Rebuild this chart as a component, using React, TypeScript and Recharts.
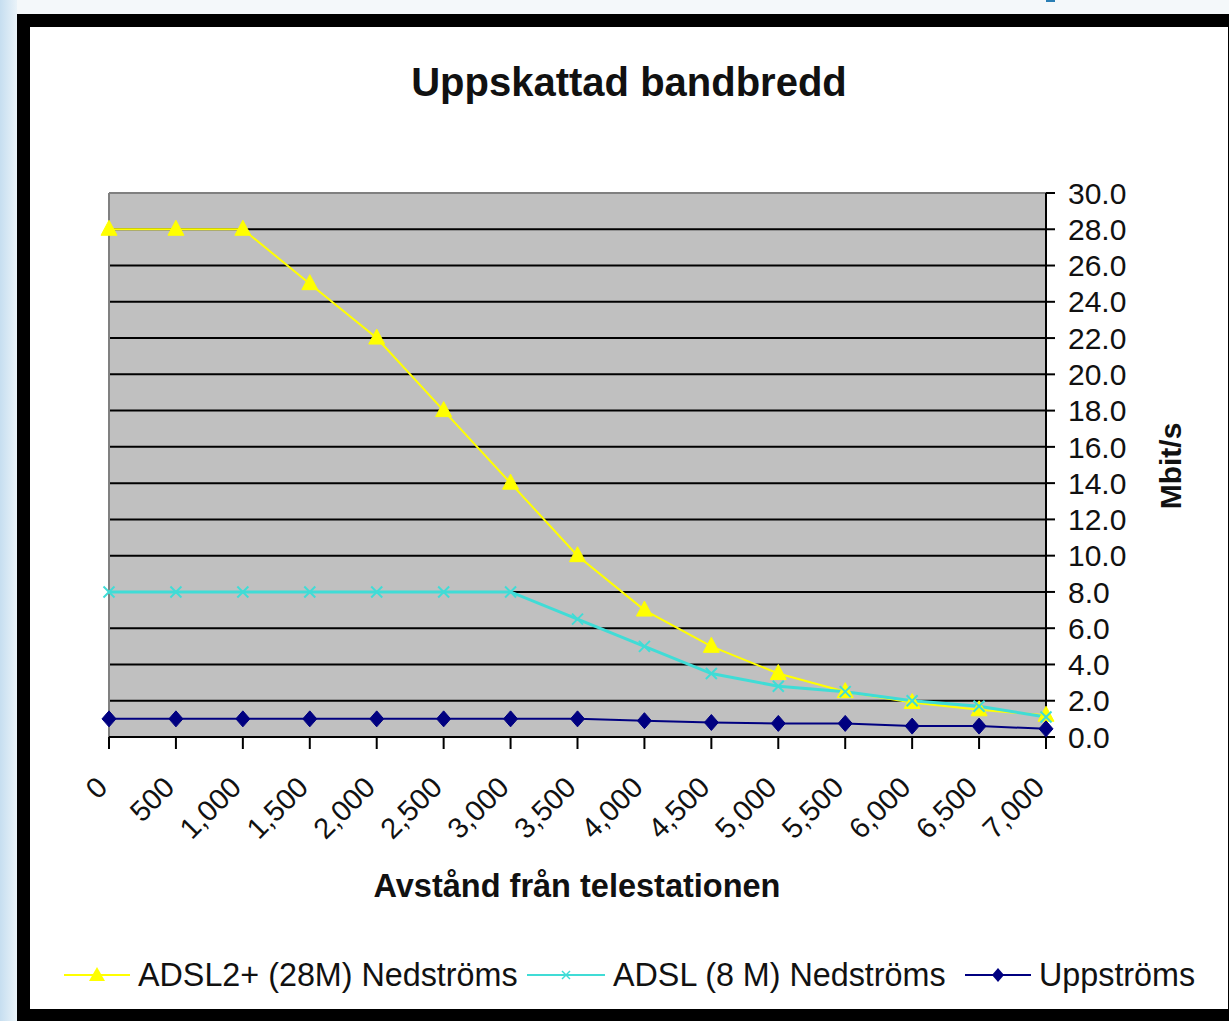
import React from "react";
import { LineChart, Line, XAxis, YAxis, CartesianGrid, ReferenceLine } from "recharts";

// distance from the exchange (m)
const distances = [0, 500, 1000, 1500, 2000, 2500, 3000, 3500, 4000, 4500, 5000, 5500, 6000, 6500, 7000];
// Mbit/s
const adsl2Down = [28, 28, 28, 25, 22, 18, 14, 10, 7, 5, 3.5, 2.5, 1.9, 1.5, 1.2];
const adslDown = [8, 8, 8, 8, 8, 8, 8, 6.5, 5, 3.5, 2.8, 2.5, 2.0, 1.7, 1.1];
const upstream = [1, 1, 1, 1, 1, 1, 1, 1, 0.9, 0.8, 0.75, 0.75, 0.6, 0.6, 0.45];
const yTicks = [0, 2, 4, 6, 8, 10, 12, 14, 16, 18, 20, 22, 24, 26, 28, 30];
const gridValues = yTicks.filter((v) => v > 0 && v < 30);

const data = distances.map((d, i) => ({
  d,
  adsl2: adsl2Down[i],
  adsl: adslDown[i],
  up: upstream[i],
}));

const W = 1229;
const H = 1021;
const FONT = '"Liberation Sans", Arial, sans-serif';
const YELLOW = "#FFFF00";
const CYAN = "#40DCD6";
const NAVY = "#000080";

const fmtX = (v: number) => v.toLocaleString("en-US");

const XTick = (props: any) => {
  const { x, payload } = props;
  const ax = x - 7;
  const ay = 782;
  return (
    <text
      x={ax}
      y={ay}
      transform={`rotate(-45, ${ax}, ${ay})`}
      textAnchor="end"
      dy="0.35em"
      fontSize={29}
      fontFamily={FONT}
      fill="#111"
    >
      {fmtX(payload.value)}
    </text>
  );
};

const TriangleDot = (props: any) => {
  const { cx, cy, index } = props;
  if (cx == null || cy == null) return <g key={`t${index}`} />;
  return (
    <polygon
      key={`t${index}`}
      points={`${cx},${cy - 9} ${cx + 8},${cy + 6} ${cx - 8},${cy + 6}`}
      fill={YELLOW}
      stroke={YELLOW}
    />
  );
};

const CrossDot = (props: any) => {
  const { cx, cy, index } = props;
  if (cx == null || cy == null) return <g key={`c${index}`} />;
  const s = 5.5;
  return (
    <g key={`c${index}`} stroke={CYAN} strokeWidth={2}>
      <line x1={cx - s} y1={cy - s} x2={cx + s} y2={cy + s} />
      <line x1={cx - s} y1={cy + s} x2={cx + s} y2={cy - s} />
    </g>
  );
};

const DiamondDot = (props: any) => {
  const { cx, cy, index } = props;
  if (cx == null || cy == null) return <g key={`d${index}`} />;
  return (
    <polygon
      key={`d${index}`}
      points={`${cx},${cy - 8} ${cx + 7},${cy} ${cx},${cy + 8} ${cx - 7},${cy}`}
      fill={NAVY}
      stroke={NAVY}
    />
  );
};

const LegendItem = ({ left, lineW, color, marker, label }: any) => (
  <div style={{ position: "absolute", left, top: 955, height: 40, display: "flex", alignItems: "center" }}>
    <svg width={lineW} height={20}>
      <line x1={0} y1={10} x2={lineW} y2={10} stroke={color} strokeWidth={2} />
      {marker === "triangle" && (
        <polygon points={`${lineW / 2},${2} ${lineW / 2 + 8},${16} ${lineW / 2 - 8},${16}`} fill={color} />
      )}
      {marker === "cross" && (
        <g stroke={color} strokeWidth={1.5}>
          <line x1={lineW / 2 - 4} y1={6} x2={lineW / 2 + 4} y2={14} />
          <line x1={lineW / 2 - 4} y1={14} x2={lineW / 2 + 4} y2={6} />
        </g>
      )}
      {marker === "diamond" && (
        <polygon
          points={`${lineW / 2},${3} ${lineW / 2 + 6},${10} ${lineW / 2},${17} ${lineW / 2 - 6},${10}`}
          fill={color}
        />
      )}
    </svg>
    <span style={{ fontSize: 32.3, marginLeft: 8, color: "#111", whiteSpace: "nowrap" }}>{label}</span>
  </div>
);

export default function App() {
  return (
    <div
      style={{
        position: "absolute",
        left: 0,
        top: 0,
        width: W,
        height: H,
        overflow: "hidden",
        background: "#f4f8fa",
        fontFamily: FONT,
      }}
    >
      <div
        style={{
          position: "absolute",
          left: 0,
          top: 0,
          width: 17,
          height: H,
          background: "linear-gradient(to right, #c6def0, #eaf3f9)",
        }}
      />
      <div style={{ position: "absolute", left: 1046, top: 0, width: 9, height: 2, background: "#2a7fb5" }} />
      <div
        style={{
          position: "absolute",
          left: 17,
          top: 14,
          width: 1224,
          height: 1008,
          boxSizing: "border-box",
          border: "13px solid #000",
          background: "#fff",
        }}
      />

      <LineChart
        width={W}
        height={H}
        data={data}
        margin={{ top: 193, right: 63, bottom: 164, left: 109 }}
        style={{ position: "absolute", left: 0, top: 0 }}
      >
        <CartesianGrid
          vertical={false}
          fill="#C0C0C0"
          fillOpacity={1}
          stroke="#000"
          strokeWidth={2}
          horizontalValues={gridValues}
        />
        <ReferenceLine y={30} stroke="#808080" strokeWidth={2} />
        <ReferenceLine x={0} stroke="#808080" strokeWidth={2} />
        <XAxis
          dataKey="d"
          type="category"
          interval={0}
          height={120}
          padding={{ left: 0, right: 0 }}
          axisLine={{ stroke: "#000", strokeWidth: 2 }}
          tickLine={{ stroke: "#000", strokeWidth: 2 }}
          tickSize={12}
          tick={<XTick />}
        />
        <YAxis
          orientation="right"
          width={120}
          domain={[0, 30]}
          ticks={yTicks}
          interval={0}
          tickFormatter={(v: number) => v.toFixed(1)}
          axisLine={{ stroke: "#000", strokeWidth: 2 }}
          tickLine={{ stroke: "#000", strokeWidth: 2 }}
          tickSize={9}
          tickMargin={13}
          tick={{ fontSize: 30, fill: "#111", fontFamily: FONT }}
        />
        <Line
          dataKey="adsl2"
          name="ADSL2+ (28M) Nedströms"
          stroke={YELLOW}
          strokeWidth={2}
          dot={TriangleDot}
          activeDot={false}
          isAnimationActive={false}
        />
        <Line
          dataKey="adsl"
          name="ADSL (8 M) Nedströms"
          stroke={CYAN}
          strokeWidth={3}
          dot={CrossDot}
          activeDot={false}
          isAnimationActive={false}
        />
        <Line
          dataKey="up"
          name="Uppströms"
          stroke={NAVY}
          strokeWidth={2}
          dot={DiamondDot}
          activeDot={false}
          isAnimationActive={false}
        />
      </LineChart>

      <div
        style={{
          position: "absolute",
          left: 629,
          top: 62,
          transform: "translateX(-50%)",
          fontSize: 40,
          fontWeight: "bold",
          color: "#111",
          whiteSpace: "nowrap",
          lineHeight: 1,
        }}
      >
        Uppskattad bandbredd
      </div>
      <div
        style={{
          position: "absolute",
          left: 577,
          top: 870,
          transform: "translateX(-50%)",
          fontSize: 32.5,
          fontWeight: "bold",
          color: "#111",
          whiteSpace: "nowrap",
          lineHeight: 1,
        }}
      >
        Avstånd från telestationen
      </div>
      <div
        style={{
          position: "absolute",
          left: 1171,
          top: 466,
          transform: "translate(-50%, -50%) rotate(-90deg)",
          fontSize: 30,
          fontWeight: "bold",
          color: "#111",
          whiteSpace: "nowrap",
          lineHeight: 1,
        }}
      >
        Mbit/s
      </div>

      <LegendItem left={64} lineW={66} color={YELLOW} marker="triangle" label="ADSL2+ (28M) Nedströms" />
      <LegendItem left={527} lineW={78} color={CYAN} marker="cross" label="ADSL (8 M) Nedströms" />
      <LegendItem left={965} lineW={66} color={NAVY} marker="diamond" label="Uppströms" />
    </div>
  );
}
